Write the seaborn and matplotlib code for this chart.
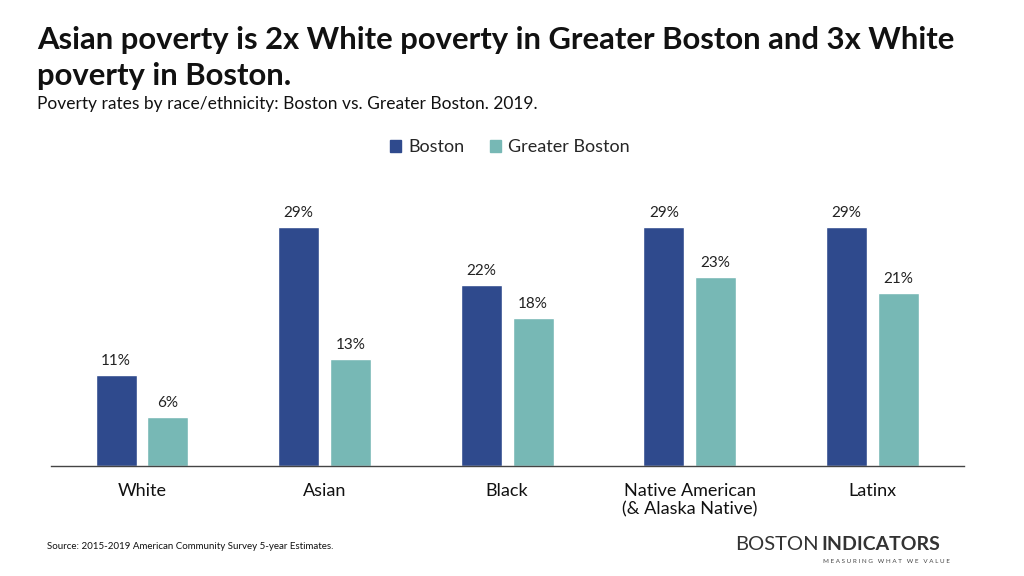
import pandas as pd
import matplotlib.pyplot as plt
import seaborn as sns

# data
categories = ["White", "Asian", "Black", "Native American\n(& Alaska Native)", "Latinx"]
boston = [11, 29, 22, 29, 29]
greater_boston = [6, 13, 18, 23, 21]
series_names = ["Boston", "Greater Boston"]
colors = ["#2F4A8D", "#77B8B5"]

df = pd.DataFrame({
    "category": categories * 2,
    "rate": boston + greater_boston,
    "area": [series_names[0]] * len(categories) + [series_names[1]] * len(categories),
})

sns.set_style("white")
plt.rcParams["font.family"] = ["Lato", "DejaVu Sans"]

fig = plt.figure(figsize=(10.24, 5.76), dpi=100)
ax = fig.add_axes([0.0495, 0.191, 0.8916, 0.479])

sns.barplot(data=df, x="category", y="rate", hue="area", palette=colors,
            saturation=1, width=0.568, gap=0.21, ax=ax, legend=False)

for cont in ax.containers:
    ax.bar_label(cont, labels=[f"{v:.0f}%" for v in cont.datavalues],
                 padding=5, fontsize=11, color="#222222")

ax.set_ylim(0, 33.5)
ax.set_xlim(-0.5, len(categories) - 0.5)
ax.set_yticks([])
ax.set_xlabel("")
ax.set_ylabel("")
for s in ["top", "left", "right"]:
    ax.spines[s].set_visible(False)
ax.spines["bottom"].set_color("#444444")
ax.spines["bottom"].set_linewidth(1)
ax.tick_params(axis="x", length=0, pad=12, labelsize=13, labelcolor="#111111")

# legend
handles = [plt.Rectangle((0, 0), 1, 1, color=c) for c in colors]
fig.legend(handles, series_names, loc="center", bbox_to_anchor=(0.498, 0.744),
           ncol=2, frameon=False, fontsize=13, handlelength=0.6, handleheight=0.6,
           columnspacing=1.4, handletextpad=0.4)

# titles
fig.text(0.036, 0.930, "Asian poverty is 2x White poverty in Greater Boston and 3x White",
         fontsize=22.3, fontweight="bold", color="#111111", va="center")
fig.text(0.036, 0.868, "poverty in Boston.",
         fontsize=22.3, fontweight="bold", color="#111111", va="center")
fig.text(0.036, 0.819, "Poverty rates by race/ethnicity: Boston vs. Greater Boston. 2019.",
         fontsize=12.5, color="#111111", va="center")

# source
fig.text(0.046, 0.052, "Source: 2015-2019 American Community Survey 5-year Estimates.",
         fontsize=7, color="#111111", va="center")

# logo
fig.text(0.718, 0.054, "BOSTON", fontsize=14.5, fontweight="normal", color="#333333", va="center")
fig.text(0.802, 0.054, "INDICATORS", fontsize=14, fontweight="bold", color="#333333", va="center")
fig.text(0.804, 0.025, "M E A S U R I N G   W H A T   W E   V A L U E", fontsize=4.5,
         color="#444444", va="center")

fig.savefig("out.png", dpi=100)
